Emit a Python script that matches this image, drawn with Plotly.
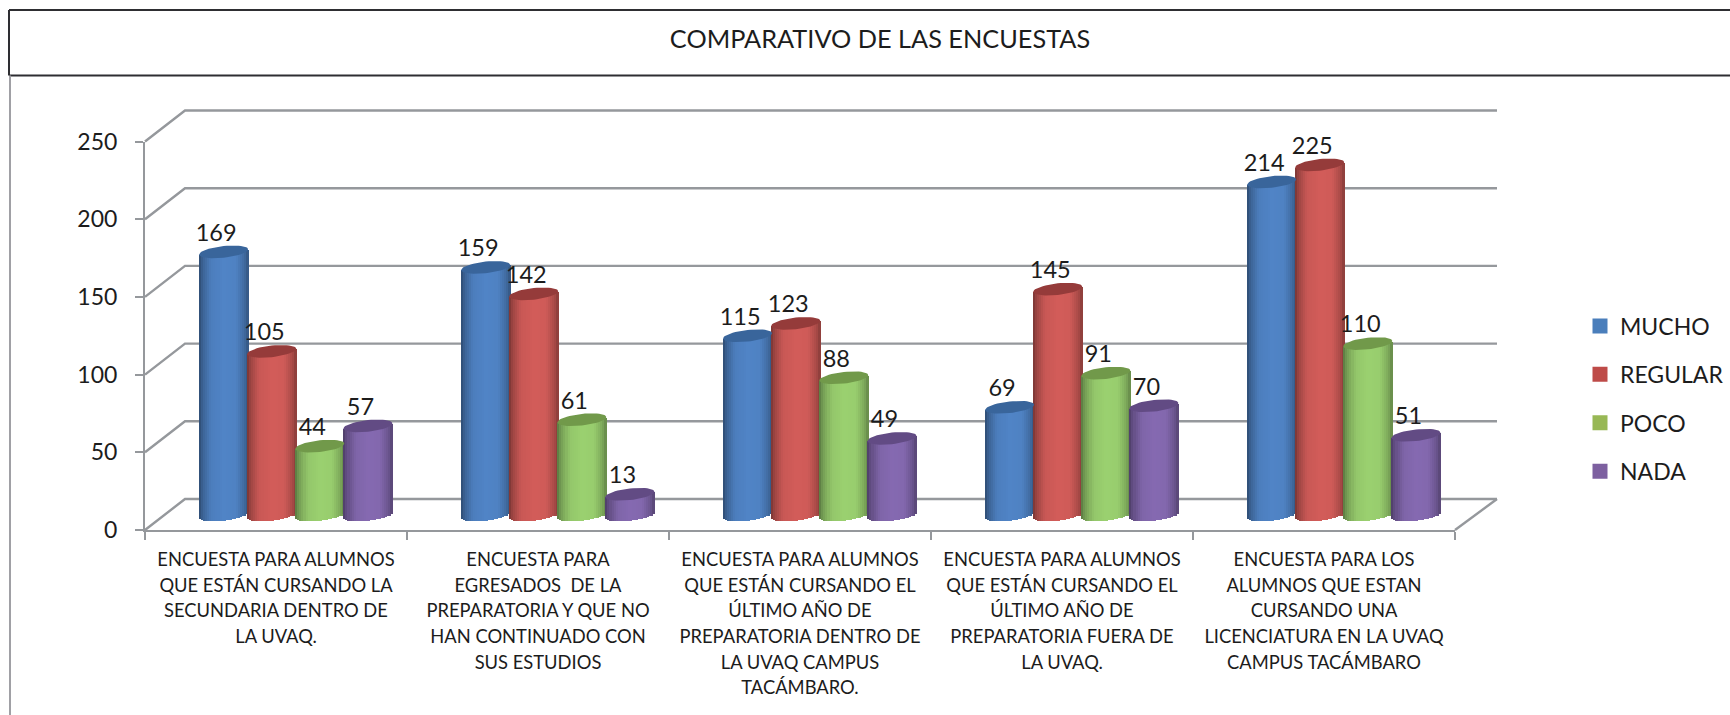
import math
import plotly.graph_objects as go

W, H = 1730, 715
categories = [
    "ENCUESTA PARA ALUMNOS<br>QUE ESTÁN CURSANDO LA<br>SECUNDARIA DENTRO DE<br>LA UVAQ.",
    "ENCUESTA PARA<br>EGRESADOS  DE LA<br>PREPARATORIA Y QUE NO<br>HAN CONTINUADO CON<br>SUS ESTUDIOS",
    "ENCUESTA PARA ALUMNOS<br>QUE ESTÁN CURSANDO EL<br>ÚLTIMO AÑO DE<br>PREPARATORIA DENTRO DE<br>LA UVAQ CAMPUS<br>TACÁMBARO.",
    "ENCUESTA PARA ALUMNOS<br>QUE ESTÁN CURSANDO EL<br>ÚLTIMO AÑO DE<br>PREPARATORIA FUERA DE<br>LA UVAQ.",
    "ENCUESTA PARA LOS<br>ALUMNOS QUE ESTAN<br>CURSANDO UNA<br>LICENCIATURA EN LA UVAQ<br>CAMPUS TACÁMBARO",
]
mucho = [169, 159, 115, 69, 214]
regular = [105, 142, 123, 145, 225]
poco = [44, 61, 88, 91, 110]
nada = [57, 13, 49, 70, 51]
series_names = ["MUCHO", "REGULAR", "POCO", "NADA"]
series_values = [mucho, regular, poco, nada]
side_colors = [(79, 130, 195), (207, 91, 88), (152, 205, 110), (131, 104, 174)]
cap_colors = ["#39659b", "#953b3a", "#71994a", "#624b84"]
legend_colors = ["#4a7ebb", "#be4b48", "#98b855", "#7d60a0"]
y_ticks = [0, 50, 100, 150, 200, 250]

FONT = "Lato"
TXT = "#1c1c1c"
GRID = "#95989c"

# pixel frame of the front axes
X0, X1, Y0, Y1 = 145, 1455, 530, 141.5
UX = (X1 - X0) / 5
UY = (Y0 - Y1) / 250
DEPTH_X, DEPTH_R = 40, 42
DEPTH_VAL = 31 / UY
BASE_VAL = 15.5 / UY          # cylinders stand half way into the floor
A, B, TILT = 24.5, 5.8, 2.6   # cylinder half width, ellipse depth, tilt (px)
BAR_OFFS = [-52.4, -4.3, 43.8, 91.9]
N = 24
stops_t = [-1, -0.85, -0.5, 0, 0.5, 0.85, 1]
stops_f = [0.58, 0.76, 0.97, 1.02, 1.0, 0.82, 0.66]
LABEL_SIZE = 18.35
PAD = 4  # px of room around the wall axes


def shade(rgb, t):
    for i in range(len(stops_t) - 1):
        if t <= stops_t[i + 1]:
            u = (t - stops_t[i]) / (stops_t[i + 1] - stops_t[i])
            f = stops_f[i] + u * (stops_f[i + 1] - stops_f[i])
            break
    return "rgb(%d,%d,%d)" % tuple(min(255, int(c * f)) for c in rgb)


def label(c):
    sp = '<span style="font-size:%.2fpx">' % LABEL_SIZE
    return sp + c.replace("<br>", "</span><br>" + sp) + "</span>"


fig = go.Figure()

# back wall and floor edges live on their own hidden axes, drawn below the cylinders
wx, wy = [], []
x_left = 0.5 + DEPTH_X / UX
x_right = 5.5 + DEPTH_R / UX
for t in y_ticks:
    wx += [0.5, x_left, x_right, None]
    wy += [t, t + DEPTH_VAL, t + DEPTH_VAL, None]
wx += [5.5, x_right, None]
wy += [0, DEPTH_VAL, None]
fig.add_trace(go.Scatter(x=wx, y=wy, mode="lines", line=dict(color=GRID, width=2.4),
                         showlegend=False, hoverinfo="skip"))

xs = [1, 2, 3, 4, 5]
for name, vals, rgb, off in zip(series_names, series_values, side_colors, BAR_OFFS):
    for k in range(N):
        t = -1 + (2 * k + 1) / N
        arc = B * math.sqrt(max(0, 1 - t * t)) / UY
        lean = TILT * t / UY
        fig.add_trace(go.Bar(
            x=xs,
            y=[v + arc for v in vals],
            base=[BASE_VAL + lean - arc] * 5,
            width=(2 * A / N + 0.4) / UX,
            offset=(off + A * t - A / N) / UX,
            xaxis="x2", yaxis="y2",
            marker=dict(color=shade(rgb, t), line=dict(width=0)),
            showlegend=False, hoverinfo="skip",
        ))

for name, vals, col, off, leg in zip(series_names, series_values, cap_colors, BAR_OFFS, legend_colors):
    cx, cy = [], []
    for x, v in zip(xs, vals):
        for j in range(49):
            th = 2 * math.pi * j / 48
            cx.append(x + (off + A * math.cos(th)) / UX)
            cy.append(BASE_VAL + v + (TILT * math.cos(th) + B * math.sin(th)) / UY)
        cx.append(None)
        cy.append(None)
    fig.add_trace(go.Scatter(x=cx, y=cy, xaxis="x2", yaxis="y2", mode="lines", fill="toself", fillcolor=col,
                             line=dict(width=0, color=col), showlegend=False,
                             hoverinfo="skip", cliponaxis=False))
    fig.add_trace(go.Scatter(
        x=[x + (off - 7.5) / UX for x in xs],
        y=[BASE_VAL + v + 17 / UY for v in vals],
        xaxis="x2", yaxis="y2",
        text=[str(v) for v in vals],
        mode="text", textposition="middle center",
        textfont=dict(family=FONT, size=23.5, color=TXT),
        showlegend=False, cliponaxis=False, hoverinfo="skip"))
    fig.add_trace(go.Scatter(x=[None], y=[None], xaxis="x2", yaxis="y2", mode="markers", name=name,
                             legendgroup=name,
                             marker=dict(symbol="square", size=15, color=leg)))

fig.update_layout(
    width=W, height=H, margin=dict(l=0, r=0, t=0, b=0, autoexpand=False),
    paper_bgcolor="white", plot_bgcolor="rgba(0,0,0,0)",
    barmode="overlay", bargap=0,
    font=dict(family=FONT, color=TXT),
    title=dict(text="COMPARATIVO DE LAS ENCUESTAS", x=880 / W, xanchor="center",
               y=1 - 39 / H, yanchor="middle", font=dict(family=FONT, size=25.3, color=TXT)),
    legend=dict(x=1580 / W, xanchor="left", y=1 - 399 / H, yanchor="middle",
                font=dict(family=FONT, size=23, color=TXT), traceorder="grouped",
                tracegroupgap=15.5, bgcolor="rgba(0,0,0,0)", itemclick=False),
    xaxis2=dict(domain=[X0 / W, X1 / W], range=[0.5, 5.5], tickmode="array", tickvals=xs,
                ticktext=[label(c) for c in categories], anchor="y2",
                tickangle=0, ticks="", showgrid=False, zeroline=False,
                showline=True, linecolor=GRID, linewidth=2,
                tickfont=dict(family=FONT, size=19.8, color=TXT), ticklabelstandoff=10,
                minor=dict(tick0=0.5, dtick=1, ticks="outside", ticklen=8, tickcolor=GRID, tickwidth=2)),
    yaxis2=dict(domain=[1 - Y0 / H, 1 - Y1 / H], range=[0, 250], tickmode="array", tickvals=y_ticks,
                ticks="outside", ticklen=8, tickcolor=GRID, tickwidth=2, anchor="x2",
                showgrid=False, zeroline=False, showline=True, linecolor=GRID, linewidth=2,
                tickfont=dict(family=FONT, size=23, color=TXT), ticklabelstandoff=13),
    xaxis=dict(domain=[(X0 - PAD) / W, (X1 + DEPTH_R + PAD) / W],
               range=[0.5 - PAD / UX, x_right + PAD / UX], anchor="y", visible=False),
    yaxis=dict(domain=[1 - (Y0 + PAD) / H, 1 - (Y1 - 31 - PAD) / H],
               range=[-PAD / UY, 250 + DEPTH_VAL + PAD / UY], anchor="x", visible=False),
    shapes=[
        dict(type="line", xref="paper", yref="paper", x0=9 / W, x1=1, y0=1 - 10 / H, y1=1 - 10 / H,
             line=dict(color="#2e2e32", width=2)),
        dict(type="line", xref="paper", yref="paper", x0=9 / W, x1=1, y0=1 - 75.5 / H, y1=1 - 75.5 / H,
             line=dict(color="#2e2e32", width=2)),
        dict(type="line", xref="paper", yref="paper", x0=9 / W, x1=9 / W, y0=1 - 75.5 / H, y1=1 - 10 / H,
             line=dict(color="#2e2e32", width=2)),
        dict(type="line", xref="paper", yref="paper", x0=10 / W, x1=10 / W, y0=0, y1=1 - 75.5 / H,
             line=dict(color="#a0a0a5", width=2)),
    ],
)

fig.write_html("out.html", config={"displayModeBar": False},
               post_script="document.body.style.margin='0';")
